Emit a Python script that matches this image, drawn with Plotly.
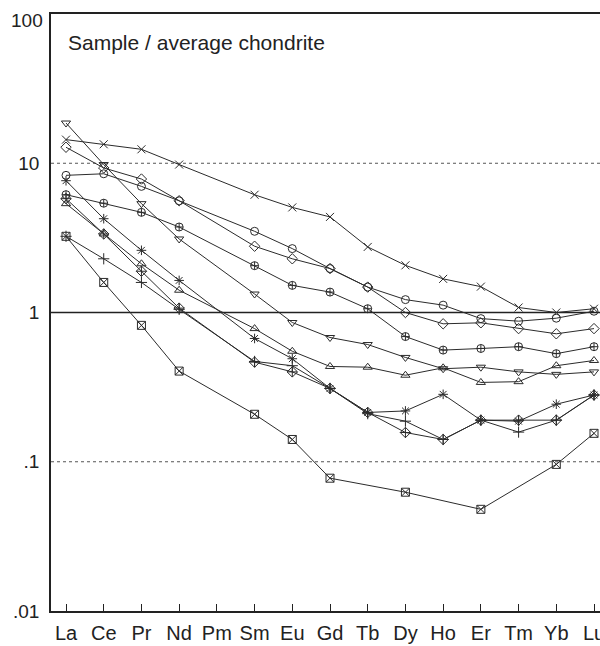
import math
import plotly.graph_objects as go

elements = ["La", "Ce", "Pr", "Nd", "Pm", "Sm", "Eu", "Gd", "Tb", "Dy", "Ho", "Er", "Tm", "Yb", "Lu"]

s_cross = [14.4, 13.4, 12.4, 9.8, None, 6.15, 5.06, 4.37, 2.75, 2.07, 1.68, 1.49, 1.08, 1.0, 1.06]
s_tridown = [18.6, 9.8, 5.36, 3.11, None, 1.33, 0.857, 0.68, 0.61, 0.50, 0.42, 0.43, 0.40, 0.385, 0.40]
s_diamond = [12.8, 9.3, 7.84, 5.61, None, 2.78, 2.29, 1.97, 1.48, 1.0, 0.84, 0.853, 0.78, 0.72, 0.78]
s_circle = [8.3, 8.5, 7.0, 5.6, None, 3.5, 2.68, 1.97, 1.48, 1.22, 1.12, 0.91, 0.875, 0.916, 1.02]
s_circlecross = [6.16, 5.4, 4.69, 3.74, None, 2.06, 1.52, 1.37, 1.06, 0.69, 0.56, 0.574, 0.59, 0.53, 0.59]
s_asterisk = [7.64, 4.25, 2.61, 1.64, None, 0.67, 0.49, 0.31, 0.214, 0.219, 0.283, 0.19, 0.187, 0.243, 0.28]
s_plus = [3.24, 2.29, 1.59, 1.05, None, 0.47, 0.44, 0.31, 0.21, 0.187, 0.141, 0.19, 0.158, 0.19, 0.28]
s_diamondcross = [5.79, 3.36, 1.89, 1.07, None, 0.465, 0.40, 0.31, 0.214, 0.157, 0.141, 0.19, 0.19, 0.19, 0.28]
s_triup = [5.36, 3.36, 2.12, 1.41, None, 0.78, 0.55, 0.435, 0.43, 0.38, 0.426, 0.34, 0.344, 0.44, 0.477]
s_squarex = [3.24, 1.59, 0.82, 0.405, None, 0.208, 0.141, 0.0776, None, 0.0625, None, 0.048, None, 0.096, 0.155]

series = [
    (s_cross, "x-thin-open"),
    (s_tridown, "triangle-down-open"),
    (s_diamond, "diamond-open"),
    (s_circle, "circle-open"),
    (s_circlecross, "circle-cross-open"),
    (s_asterisk, "asterisk-open"),
    (s_plus, "cross-thin-open"),
    (s_diamondcross, "diamond-cross-open"),
    (s_triup, "triangle-up-open"),
    (s_squarex, "square-x-open"),
]

ytickvals = [0.01, 0.1, 1, 10, 100]
yticktext = [".01", ".1", "1", "10", "100"]

FONT = "Liberation Sans, Arial, Helvetica, sans-serif"
INK = "#222"

fig = go.Figure()
for vals, sym in series:
    fig.add_trace(go.Scatter(
        x=elements, y=vals, mode="lines+markers", connectgaps=True,
        line=dict(color="#2b2b2b", width=1),
        marker=dict(symbol=sym, size=8, color="#2b2b2b", line=dict(color="#2b2b2b", width=1)),
        showlegend=False, cliponaxis=True, hoverinfo="skip",
    ))

# reference lines
fig.add_shape(type="line", xref="paper", yref="y", x0=0, x1=1, y0=10, y1=10,
              line=dict(color="#555", width=1, dash="dot"), layer="below")
fig.add_shape(type="line", xref="paper", yref="y", x0=0, x1=1, y0=0.1, y1=0.1,
              line=dict(color="#555", width=1, dash="dot"), layer="below")
fig.add_shape(type="line", xref="paper", yref="y", x0=0, x1=1, y0=1, y1=1,
              line=dict(color=INK, width=1.6), layer="below")

fig.add_annotation(text="Sample / average chondrite", xref="paper", yref="paper",
                   x=0.027, y=0.953, xanchor="left", yanchor="middle", showarrow=False,
                   font=dict(size=21, color=INK, family=FONT))

# top tick label (sits slightly below the frame in the reference)
fig.add_annotation(text=yticktext[-1], xref="paper", yref="y",
                   x=0, y=math.log10(ytickvals[-1]), xanchor="right", yanchor="middle",
                   xshift=-6, yshift=-6, showarrow=False,
                   font=dict(size=19, color=INK, family=FONT))

fig.update_layout(
    template="none",
    width=600, height=646,
    margin=dict(l=51, r=0, t=14, b=35, pad=0),
    paper_bgcolor="white", plot_bgcolor="white",
    font=dict(family=FONT, size=19, color=INK),
    hovermode=False,
    xaxis=dict(
        type="category", categoryorder="array", categoryarray=elements,
        range=[-0.398, 14.159], showgrid=False, zeroline=False, automargin=False,
        showline=True, mirror=True, linecolor=INK, linewidth=1.5,
        ticks="inside", ticklen=7, tickcolor=INK, tickwidth=1,
        tickfont=dict(size=20), ticklabeloverflow="allow", ticklabelstandoff=3,
    ),
    yaxis=dict(
        type="log", range=[-2, 2], showgrid=False, zeroline=False, automargin=False,
        showline=True, linecolor=INK, linewidth=1.5,
        tickvals=ytickvals[:-1], ticktext=yticktext[:-1], ticks="",
        ticklabelstandoff=6, tickfont=dict(size=19),
    ),
)

fig.write_html(
    "out.html",
    config={"displayModeBar": False},
    post_script="document.body.style.margin='0';document.body.style.padding='0';"
                "document.body.style.overflow='hidden';",
)
